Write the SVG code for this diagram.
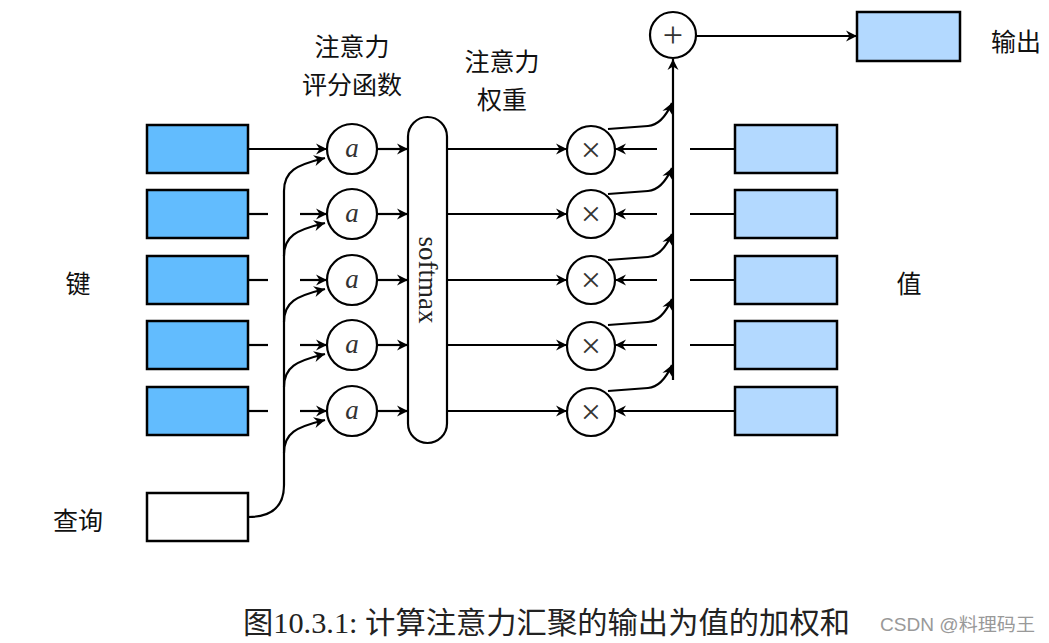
<svg xmlns="http://www.w3.org/2000/svg" width="1049" height="643" viewBox="0 0 1049 643">
<defs>
<marker id="ah" markerUnits="userSpaceOnUse" markerWidth="14" markerHeight="14" viewBox="-12 -7 14 14" refX="0" refY="0" orient="auto">
<path d="M0,0 L-11,-5.5 L-7.5,0 L-11,5.5 Z" fill="#000"/>
</marker>
</defs>
<style>
.key{fill:#62bcfe;stroke:#000;stroke-width:2.5}
.val{fill:#b3d9ff;stroke:#000;stroke-width:2.5}
.qry{fill:#fff;stroke:#000;stroke-width:2.5}
.circ{fill:#fff;stroke:#000;stroke-width:2.2}
.ln{fill:none;stroke:#000;stroke-width:2.2}
.ar{fill:none;stroke:#000;stroke-width:2.2;marker-end:url(#ah)}
.lbl{font-family:"Noto Sans CJK SC","Noto Sans",sans-serif;font-size:25px;fill:#111;text-anchor:middle;dominant-baseline:central}
.av{font-family:"Liberation Serif",serif;font-style:italic;font-size:27px;fill:#333;text-anchor:middle;dominant-baseline:central}
.op{font-family:"Liberation Serif",serif;font-size:36px;fill:#333;text-anchor:middle;dominant-baseline:central}
</style>
<rect width="1049" height="643" fill="#fff"/>

<g id="connectors">
<path class="ar" d="M248,149 L327,149"/>
<path class="ln" d="M248,214 L268,214"/><path class="ar" d="M300,214 L327,214"/>
<path class="ln" d="M248,280 L268,280"/><path class="ar" d="M300,280 L327,280"/>
<path class="ln" d="M248,345 L268,345"/><path class="ar" d="M300,345 L327,345"/>
<path class="ln" d="M248,411 L268,411"/><path class="ar" d="M300,411 L327,411"/>
<path class="ln" d="M248,517 Q284,517 284,485 L284,191"/>
<path class="ar" d="M284,191 C284,171 296,165 325,158"/>
<path class="ar" d="M284,256 C284,236 296,230 325,223"/>
<path class="ar" d="M284,322 C284,302 296,296 325,289"/>
<path class="ar" d="M284,387 C284,367 296,361 325,354"/>
<path class="ar" d="M284,453 C284,433 296,427 325,420"/>
<path class="ar" d="M377,149 L408,149"/>
<path class="ar" d="M377,214 L408,214"/>
<path class="ar" d="M377,280 L408,280"/>
<path class="ar" d="M377,345 L408,345"/>
<path class="ar" d="M377,411 L408,411"/>
<path class="ar" d="M447,149 L567,149"/>
<path class="ar" d="M447,214 L567,214"/>
<path class="ar" d="M447,280 L567,280"/>
<path class="ar" d="M447,345 L567,345"/>
<path class="ar" d="M447,411 L567,411"/>
<path class="ln" d="M735,149 L690,149"/><path class="ar" d="M657,149 L615,149"/>
<path class="ln" d="M735,214 L690,214"/><path class="ar" d="M657,214 L615,214"/>
<path class="ln" d="M735,280 L690,280"/><path class="ar" d="M657,280 L615,280"/>
<path class="ln" d="M735,345 L690,345"/><path class="ar" d="M657,345 L615,345"/>
<path class="ar" d="M735,411 L615,411"/>
<path class="ar" d="M673,380 L673,59"/>
<path class="ar" d="M608,129 L648,126 Q662,125 672,103"/>
<path class="ar" d="M608,194 L648,191 Q662,190 672,168"/>
<path class="ar" d="M608,260 L648,257 Q662,256 672,234"/>
<path class="ar" d="M608,325 L648,322 Q662,321 672,299"/>
<path class="ar" d="M608,391 L648,388 Q662,387 672,365"/>
<path class="ar" d="M696,36 L857,36"/>
</g>

<g id="keys">
<rect class="key" x="147" y="125" width="101" height="48"/>
<rect class="key" x="147" y="190" width="101" height="48"/>
<rect class="key" x="147" y="256" width="101" height="48"/>
<rect class="key" x="147" y="321" width="101" height="48"/>
<rect class="key" x="147" y="387" width="101" height="48"/>
</g>
<g id="query"><rect class="qry" x="147" y="493" width="101" height="48"/></g>
<g id="values">
<rect class="val" x="735" y="125" width="102" height="48"/>
<rect class="val" x="735" y="190" width="102" height="48"/>
<rect class="val" x="735" y="256" width="102" height="48"/>
<rect class="val" x="735" y="321" width="102" height="48"/>
<rect class="val" x="735" y="387" width="102" height="48"/>
</g>
<g id="score">
<circle class="circ" cx="352" cy="149" r="25"/><text class="av" x="352" y="148">a</text>
<circle class="circ" cx="352" cy="214" r="25"/><text class="av" x="352" y="213">a</text>
<circle class="circ" cx="352" cy="280" r="25"/><text class="av" x="352" y="279">a</text>
<circle class="circ" cx="352" cy="345" r="25"/><text class="av" x="352" y="344">a</text>
<circle class="circ" cx="352" cy="411" r="25"/><text class="av" x="352" y="410">a</text>
</g>
<g id="softmax">
<rect class="circ" x="408" y="117" width="39" height="326" rx="19.5"/>
<text x="428" y="280" transform="rotate(90 428 280)" font-family="Liberation Serif, serif" font-size="27" fill="#222" text-anchor="middle" dominant-baseline="central">softmax</text>
</g>
<g id="mult">
<circle class="circ" cx="591" cy="150" r="24"/><text class="op" x="591" y="150">×</text>
<circle class="circ" cx="591" cy="214" r="24"/><text class="op" x="591" y="214">×</text>
<circle class="circ" cx="591" cy="280" r="24"/><text class="op" x="591" y="280">×</text>
<circle class="circ" cx="591" cy="346" r="24"/><text class="op" x="591" y="346">×</text>
<circle class="circ" cx="591" cy="412" r="24"/><text class="op" x="591" y="412">×</text>
</g>
<g id="sum">
<circle class="circ" cx="673" cy="35" r="23"/><text class="op" x="673" y="35">+</text>
</g>
<g id="output"><rect class="val" x="857" y="12" width="103" height="49"/></g>

<g id="labels">
<text class="lbl" x="352" y="45">注意力</text>
<text class="lbl" x="352" y="83">评分函数</text>
<text class="lbl" x="502" y="60">注意力</text>
<text class="lbl" x="502" y="98">权重</text>
<text class="lbl" x="78" y="282">键</text>
<text class="lbl" x="909" y="282">值</text>
<text class="lbl" x="78" y="519">查询</text>
<text class="lbl" x="1016" y="40">输出</text>
</g>
<text x="243" y="633" font-family="Liberation Serif, Noto Sans CJK SC, serif" font-size="30" fill="#222" textLength="607" lengthAdjust="spacingAndGlyphs">图10.3.1: 计算注意力汇聚的输出为值的加权和</text>
<text x="880" y="631" font-family="Liberation Sans, Noto Sans CJK SC, sans-serif" font-size="18" fill="#999" textLength="155" lengthAdjust="spacingAndGlyphs">CSDN @料理码王</text>
</svg>
